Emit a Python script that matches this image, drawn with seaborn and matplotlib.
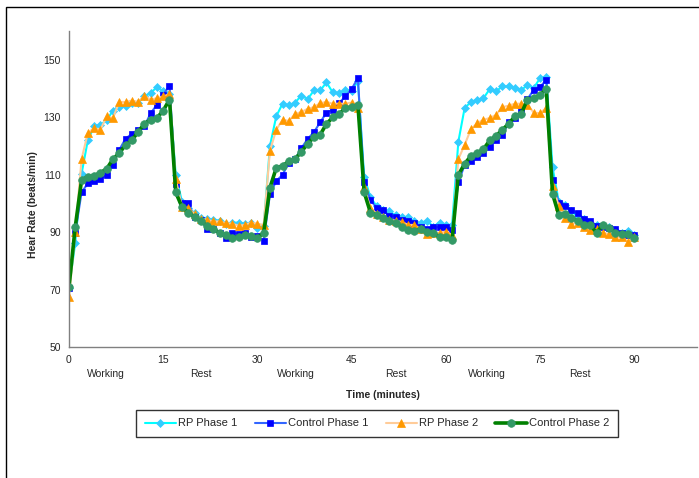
import numpy as np
import pandas as pd
import seaborn as sns
import matplotlib.pyplot as plt
from matplotlib.patches import Rectangle

# %% data (one value per minute)
minutes = list(range(91))

rp_phase1 = [70.5, 86.3, 110.3, 122.0, 126.8, 127.4, 128.9, 132.3, 133.5, 134.0, 134.9, 135.1, 137.2, 138.4, 140.5, 139.0, 138.0,
             109.9, 100.5, 98.5, 96.6, 94.8, 94.5, 94.3, 94.0, 92.9, 93.3, 93.3, 92.9, 93.1, 91.3, 92.0,
             120.0, 130.3, 134.7, 134.1, 135.1, 137.5, 136.3, 139.3, 139.3, 142.1, 138.6, 138.4, 139.5, 139.0, 142.5,
             109.3, 102.1, 99.0, 97.7, 97.2, 95.8, 95.4, 95.2, 93.7, 93.1, 94.0, 91.9, 93.3, 92.5, 92.5,
             121.5, 133.2, 135.3, 136.1, 136.6, 139.8, 139.0, 140.7, 140.7, 140.1, 139.3, 141.3, 140.1, 143.6, 144.0,
             112.5, 100.5, 99.5, 97.2, 95.5, 94.5, 93.0, 92.5, 92.2, 91.9, 90.8, 89.8, 90.5, 89.0]

control_phase1 = [70.5, 89.8, 103.8, 107.0, 107.8, 108.5, 109.9, 113.5, 118.6, 122.5, 124.2, 125.6, 126.8, 131.4, 134.3, 137.8, 141.0,
                  106.7, 100.0, 100.0, 95.2, 94.3, 91.0, 91.0, 89.6, 87.9, 89.8, 89.4, 89.8, 88.2, 88.5, 87.0,
                  103.2, 107.8, 109.9, 114.2, 115.4, 119.2, 122.4, 124.8, 128.2, 131.6, 132.6, 134.9, 137.2, 139.8, 143.6,
                  107.3, 101.2, 98.4, 97.7, 95.6, 95.4, 94.3, 93.7, 93.1, 91.9, 91.0, 91.7, 91.7, 91.7, 90.8,
                  107.3, 113.4, 114.9, 116.1, 117.7, 119.6, 122.1, 123.7, 128.2, 129.7, 132.3, 136.3, 139.5, 140.5, 143.0,
                  108.2, 100.1, 99.1, 97.7, 96.6, 94.5, 94.0, 92.2, 91.9, 91.3, 91.0, 89.6, 89.0, 89.0]

rp_phase2 = [67.3, 90.0, 115.4, 124.5, 126.2, 125.6, 130.3, 129.7, 135.3, 135.3, 135.8, 135.3, 137.5, 136.1, 136.6, 137.2, 138.0,
             108.4, 98.9, 98.3, 96.3, 94.6, 94.3, 93.7, 93.7, 93.1, 92.9, 92.2, 92.5, 93.3, 92.9, 92.5,
             118.3, 125.6, 129.1, 128.7, 131.1, 131.8, 132.9, 133.5, 134.9, 135.3, 134.7, 134.7, 134.7, 135.1, 133.2,
             105.6, 98.5, 96.3, 95.4, 94.3, 94.0, 93.5, 92.5, 92.5, 91.0, 89.4, 89.8, 89.8, 90.2, 89.0,
             115.4, 120.4, 125.8, 127.9, 129.1, 129.7, 130.8, 133.5, 134.0, 134.7, 134.7, 134.3, 131.6, 131.4, 133.2,
             105.9, 99.1, 94.8, 92.9, 93.3, 91.9, 90.8, 91.0, 89.6, 89.4, 88.4, 88.2, 86.7, 88.4]

control_phase2 = [70.9, 91.9, 108.1, 109.3, 109.6, 110.7, 112.0, 115.4, 117.5, 120.3, 121.9, 124.9, 127.7, 129.1, 129.7, 132.3, 136.1,
                  103.8, 98.7, 96.8, 95.2, 93.7, 92.2, 91.2, 89.6, 89.0, 87.9, 88.4, 89.0, 88.7, 87.9, 89.8,
                  105.5, 112.3, 113.1, 114.6, 115.4, 118.0, 120.7, 123.1, 123.9, 127.7, 129.9, 131.1, 133.2, 133.5, 134.4,
                  103.9, 96.8, 95.9, 94.8, 93.7, 93.1, 91.9, 90.8, 90.5, 91.0, 90.2, 89.6, 88.4, 88.4, 87.3,
                  109.9, 113.8, 116.5, 117.5, 118.9, 121.9, 123.5, 125.6, 127.7, 130.3, 131.2, 136.1, 136.6, 137.8, 139.8,
                  103.3, 95.9, 96.3, 94.8, 94.0, 92.5, 92.5, 89.8, 92.5, 91.3, 89.8, 89.4, 89.4, 87.9]

phase_labels = ['Working', 'Rest', 'Working', 'Rest', 'Working', 'Rest']
phase_centers = [5.8, 21.0, 36.2, 52.0, 66.6, 81.3]

# %% plot
sns.set_style('white')
plt.rcParams['font.family'] = ['Liberation Sans', 'DejaVu Sans']

fig = plt.figure(figsize=(6.99, 4.78), dpi=100)
ax = fig.add_axes([69 / 699, 1 - 347 / 478, 628 / 699, 316 / 478])

# series: label, values, line colour, marker, marker colour, line width, marker size
series = [('RP Phase 1', rp_phase1, '#00FFFF', 'D', '#33CCFF', 1.5, 4.5),
          ('Control Phase 1', control_phase1, '#3366FF', 's', '#0000FF', 1.5, 4.5),
          ('RP Phase 2', rp_phase2, '#FFCC99', '^', '#FF9900', 1.5, 5.5),
          ('Control Phase 2', control_phase2, '#008000', 'o', '#339966', 2.6, 5.5)]

for name, vals, lc, mk, mc, lw, ms in series:
    df = pd.DataFrame({'minute': minutes, 'hr': vals})
    sns.lineplot(data=df, x='minute', y='hr', ax=ax, color=lc, lw=lw,
                 marker=mk, markersize=ms, markerfacecolor=mc, markeredgecolor=mc,
                 markeredgewidth=0.5, label=name)

ax.set_xlim(0, 100)
ax.set_ylim(50, 160)
ax.set_xticks(range(0, 91, 15))
ax.set_yticks(range(50, 151, 20))
ax.tick_params(axis='both', direction='out', length=3, width=1, color='#808080',
               labelsize=7.5, pad=3)
for side in ['top', 'right']:
    ax.spines[side].set_visible(False)
for side in ['left', 'bottom']:
    ax.spines[side].set_color('#808080')
    ax.spines[side].set_linewidth(1)

ax.set_xlabel('Time (minutes)', fontsize=7.5, fontweight='bold', labelpad=18)
ax.set_ylabel('Hear Rate (beats/min)', fontsize=7.5, fontweight='bold')
ax.yaxis.set_label_coords(-0.05, 0.45)

# phase labels under the tick labels
for xc, lab in zip(phase_centers, phase_labels):
    ax.text(xc, -0.085, lab, transform=ax.get_xaxis_transform(),
            ha='center', va='center', fontsize=7.5)

# legend below the axis
handles, labels = ax.get_legend_handles_labels()
ax.legend_.remove()
leg = fig.legend(handles, labels, ncol=4, loc='center', bbox_to_anchor=(377 / 699, 1 - 423.5 / 478),
                 frameon=True, fancybox=False, edgecolor='black', fontsize=8,
                 handlelength=2.8, handletextpad=0.2, columnspacing=1.55, borderpad=0.8)
leg.get_frame().set_linewidth(1)

# chart area border (cut off at right/bottom in the reference)
fig.patches.append(Rectangle((6 / 699, -0.1), 1.2, 1.1 - 7 / 478, transform=fig.transFigure,
                             fill=False, edgecolor='black', lw=1))

plt.savefig('out.png', dpi=100)
